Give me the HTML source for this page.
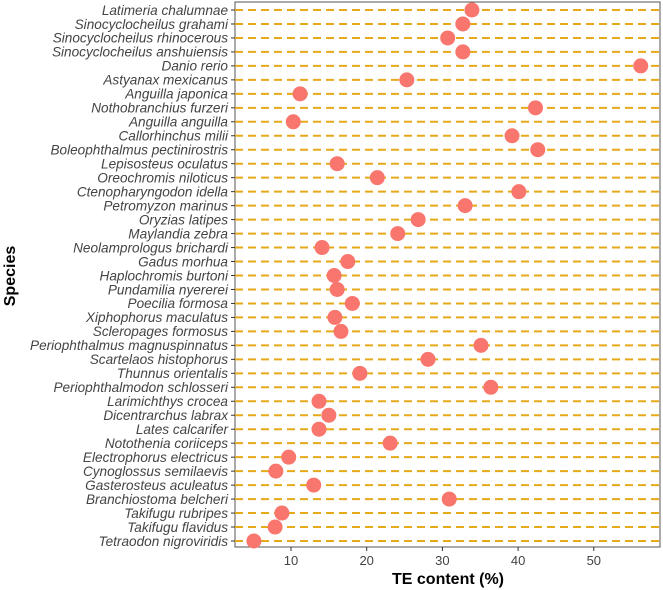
<!DOCTYPE html>
<html><head><meta charset="utf-8"><style>body{margin:0;background:#fff}svg{display:block}</style></head>
<body>
<svg id="chart" width="663" height="590" xmlns="http://www.w3.org/2000/svg">
<rect x="235" y="2" width="425" height="545" fill="#fff" stroke="#555" stroke-width="1"/>
<g id="rows"></g><g id="xaxis"></g><g id="dots"></g>
<text x="448" y="584" text-anchor="middle" font-family="Liberation Sans, sans-serif" font-weight="bold" font-size="16">TE content (%)</text>
<text transform="translate(15,276) rotate(-90)" text-anchor="middle" font-family="Liberation Sans, sans-serif" font-weight="bold" font-size="16">Species</text>
</svg>
<script>
const species = ["Latimeria chalumnae","Sinocyclocheilus grahami","Sinocyclocheilus rhinocerous","Sinocyclocheilus anshuiensis","Danio rerio","Astyanax mexicanus","Anguilla japonica","Nothobranchius furzeri","Anguilla anguilla","Callorhinchus milii","Boleophthalmus pectinirostris","Lepisosteus oculatus","Oreochromis niloticus","Ctenopharyngodon idella","Petromyzon marinus","Oryzias latipes","Maylandia zebra","Neolamprologus brichardi","Gadus morhua","Haplochromis burtoni","Pundamilia nyererei","Poecilia formosa","Xiphophorus maculatus","Scleropages formosus","Periophthalmus magnuspinnatus","Scartelaos histophorus","Thunnus orientalis","Periophthalmodon schlosseri","Larimichthys crocea","Dicentrarchus labrax","Lates calcarifer","Notothenia coriiceps","Electrophorus electricus","Cynoglossus semilaevis","Gasterosteus aculeatus","Branchiostoma belcheri","Takifugu rubripes","Takifugu flavidus","Tetraodon nigroviridis"];
const teContent = [33.9,32.7,30.7,32.7,56.2,25.3,11.2,42.3,10.3,39.2,42.6,16.1,21.4,40.1,33.0,26.8,24.1,14.1,17.5,15.7,16.1,18.1,15.8,16.6,35.1,28.1,19.1,36.4,13.7,15.0,13.7,23.1,9.7,8.0,13.0,30.9,8.8,7.9,5.1];
const xTicks = [10,20,30,40,50];
const ns="http://www.w3.org/2000/svg";
const xS = v => 215.3 + v*7.57;
const yS = i => 10 + i*(531/38);
function mk(tag, attrs, parent){const e=document.createElementNS(ns,tag);for(const k in attrs)e.setAttribute(k,attrs[k]);parent.appendChild(e);return e;}
const rows=document.getElementById('rows'), xa=document.getElementById('xaxis'), dots=document.getElementById('dots');
species.forEach((s,i)=>{
  const y=yS(i);
  const l=mk('line',{x1:235,x2:660,y1:y,y2:y,stroke:'#e6a91a','stroke-width':2,'stroke-dasharray':'8,5'},rows);
  
  
  const t=mk('line',{x1:231,x2:235,y1:y,y2:y,stroke:'#333','stroke-width':1},rows);
  
  
  const tx=mk('text',{x:228,y:y+4.8,'text-anchor':'end','font-family':'Liberation Sans, sans-serif','font-style':'italic','font-size':13.6,fill:'#444'},rows);
  tx.textContent=s;
  
  
  const c=mk('circle',{cx:xS(teContent[i]),cy:y,r:7.5,fill:'#f8766d'},dots);
  
  
});
xTicks.forEach(v=>{
  const x=xS(v);
  const t=mk('line',{x1:x,x2:x,y1:547,y2:551,stroke:'#333','stroke-width':1},xa);
  
  
  const tx=mk('text',{x:x,y:565,'text-anchor':'middle','font-family':'Liberation Sans, sans-serif','font-size':13,fill:'#444'},xa);
  tx.textContent=v;
  
  
});
</script>
</body></html>
